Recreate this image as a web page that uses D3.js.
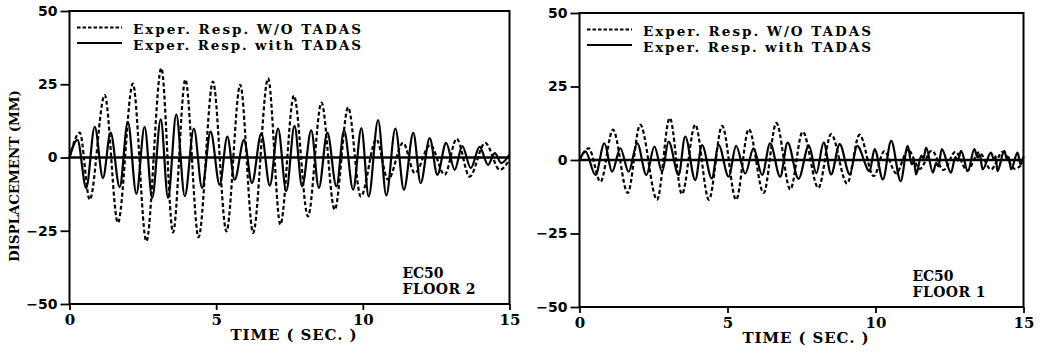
<!DOCTYPE html>
<html>
<head>
<meta charset="utf-8">
<script src="https://cdn.jsdelivr.net/npm/d3@7"></script>
<style>
  body { margin: 0; background: #fff; }
  svg { display: block; }
</style>
</head>
<body>
<div id="chart"></div>
<script>
// turning points (time in sec, displacement in mm)
// floor 2, without TADAS (dashed)
var t2_wo = [0, 0.35, 0.69, 1.2, 1.65, 2.16, 2.62, 3.13, 3.53, 3.95, 4.4, 4.89, 5.35, 5.82, 6.26, 6.77, 7.19, 7.65, 8.13, 8.59, 9.04, 9.5, 9.93, 10.46, 10.86, 11.37, 11.77, 12.3, 12.79, 13.2, 13.64, 14.17, 14.67, 15];
var d2_wo = [0, 8.5, -14.4, 21.3, -22.3, 25.2, -28.6, 30.5, -25.6, 26.6, -27.2, 25.9, -25.2, 24.8, -25.7, 27, -22.9, 21.1, -20.1, 18.7, -17.8, 17.1, -13.3, 6.2, -7.6, 5.0, -5.3, 4.3, -5.9, 6.4, -6.5, 5.0, -4.2, -0.8];
// floor 2, with TADAS (solid)
var t2_w = [0, 0.27, 0.57, 0.86, 1.14, 1.40, 1.71, 1.99, 2.28, 2.56, 2.82, 3.11, 3.36, 3.64, 3.93, 4.24, 4.52, 4.81, 5.12, 5.38, 5.63, 5.95, 6.22, 6.54, 6.83, 7.11, 7.39, 7.67, 7.93, 8.24, 8.5, 8.79, 9.1, 9.36, 9.67, 9.95, 10.2, 10.52, 10.8, 11.11, 11.4, 11.72, 11.97, 12.28, 12.54, 12.84, 13.13, 13.39, 13.68, 13.98, 14.27, 14.5, 14.72, 15];
var d2_w = [0, 6.0, -10.4, 10.5, -7.0, 8.5, -10.1, 12.2, -12.4, 10.5, -13.8, 13.0, -13.8, 14.7, -13.2, 9.9, -10.4, 8.8, -9.3, 7.1, -7.6, 6.0, -8.7, 8.2, -9.6, 9.9, -11.5, 10.8, -9.9, 9.3, -10.4, 8.5, -9.9, 9.3, -11.0, 10.0, -13.3, 12.8, -12.9, 9.9, -11.0, 8.4, -8.7, 6.6, -5.9, 5.0, -4.2, 3.9, -3.6, 3.6, -2.5, 1.5, -1.9, 1.0];
// floor 1, without TADAS (dashed)
var t1_wo = [0, 0.31, 0.71, 1.13, 1.63, 2.05, 2.62, 3.05, 3.46, 3.91, 4.37, 4.82, 5.29, 5.72, 6.22, 6.65, 7.12, 7.54, 8.07, 8.5, 9.04, 9.46, 9.94, 10.3, 10.7, 11.1, 11.5, 11.9, 12.3, 12.7, 13.1, 13.5, 13.9, 14.3, 14.7, 15];
var d1_wo = [0, 4.0, -7.4, 10.3, -11.2, 12.0, -13.5, 14.3, -11.6, 12.0, -13.5, 11.6, -13.5, 10.5, -11.2, 12.6, -10.0, 9.6, -9.5, 8.8, -8.0, 8.6, -5.5, 3.0, -4.5, 3.5, -3.0, 3.2, -3.4, 2.8, -3.6, 2.6, -3.2, 2.8, -3.0, -1.0];
// floor 1, with TADAS (solid), small ripples after 10 sec
var t1_w = [0, 0.2, 0.54, 0.84, 1.1, 1.38, 1.66, 1.95, 2.26, 2.53, 2.79, 3.01, 3.35, 3.57, 3.91, 4.14, 4.47, 4.7, 5.04, 5.29, 5.6, 5.88, 6.17, 6.44, 6.78, 7.03, 7.4, 7.75, 8.0, 8.25, 8.5, 8.79, 9.13, 9.38, 9.8, 9.97, 10.25, 10.53, 10.85, 11.09, 11.22, 11.3, 11.37, 11.55, 11.62, 11.71, 11.94, 12.05, 12.12, 12.24, 12.55, 12.7, 12.78, 12.89, 13.12, 13.34, 13.45, 13.52, 13.62, 13.9, 14.0, 14.06, 14.12, 14.35, 14.45, 14.5, 14.58, 14.8, 14.9, 15];
var d1_w = [0, 2.9, -5.1, 5.7, -4.0, 4.0, -4.0, 5.7, -5.1, 4.6, -4.0, 6.3, -5.1, 8.0, -6.8, 5.1, -6.3, 5.1, -5.7, 4.8, -4.6, 4.0, -5.1, 5.7, -5.7, 5.9, -6.4, 5.0, -4.5, 5.9, -4.9, 5.4, -4.9, 4.8, -3.8, 3.7, -6.6, 6.5, -7.2, 4.8, -1.5, -0.4, -4.9, 1.5, 0.6, 4.2, -4.3, -1.0, -2.2, 3.7, -4.3, 1.0, -0.2, 3.1, -3.8, 3.7, 0.8, 1.8, -3.2, 2.5, 0.2, 1.2, -3.8, 3.1, 0.0, 1.0, -3.2, 2.5, -1.5, 1.2];

var yTicks = [-50, -25, 0, 25, 50];
var xTicks = [0, 5, 10, 15];
var legendNames = ["Exper. Resp. W/O TADAS", "Exper. Resp. with TADAS"];
var tags = [["EC50", "FLOOR 2"], ["EC50", "FLOOR 1"]];
var yTitle = "DISPLACEMENT (MM)";
var xTitle = "TIME ( SEC. )";

var width = 1042;
var height = 356;
var serif = "'DejaVu Serif', serif";

var panels = [
  {left: 69.5, right: 509.5, top: 11, bottom: 304, wo: d3.zip(t2_wo, d2_wo), w: d3.zip(t2_w, d2_w), tag: tags[0], ylabel: true},
  {left: 579.5, right: 1023.5, top: 13, bottom: 307, wo: d3.zip(t1_wo, d1_wo), w: d3.zip(t1_w, d1_w), tag: tags[1], ylabel: false}
];

var svg = d3.select("#chart").append("svg")
  .attr("width", width)
  .attr("height", height);

panels.forEach(function(p) {
  var xScale = d3.scaleLinear().domain([0, 15]).range([p.left, p.right]);
  var yScale = d3.scaleLinear().domain([-50, 50]).range([p.bottom, p.top]);

  var g = svg.append("g");

  /* axes */
  var yAxis = d3.axisLeft(yScale).tickValues(yTicks).tickSize(9).tickPadding(3)
    .tickFormat(function(d) { return d < 0 ? "\u2212" + (-d) : d; });
  var xAxis = d3.axisBottom(xScale).tickValues(xTicks).tickSize(6).tickPadding(4);

  var ya = g.append("g").attr("transform", "translate(" + p.left + ",0)").call(yAxis);
  ya.select(".domain").remove();
  ya.selectAll("line").attr("stroke", "#000").attr("stroke-width", 1.8);
  ya.selectAll("text")
    .attr("fill", "#000")
    .style("font-family", "'DejaVu Sans', sans-serif")
    .style("font-weight", "bold")
    .style("font-size", "14px");

  var xa = g.append("g").attr("transform", "translate(0," + p.bottom + ")").call(xAxis);
  xa.select(".domain").remove();
  xa.selectAll("line").attr("stroke", "#000").attr("stroke-width", 1.8);
  xa.selectAll("text")
    .attr("fill", "#000")
    .style("font-family", serif)
    .style("font-weight", "bold")
    .style("font-size", "15px");

  /* frame */
  g.append("rect")
    .attr("x", p.left)
    .attr("y", p.top)
    .attr("width", p.right - p.left)
    .attr("height", p.bottom - p.top)
    .attr("fill", "none")
    .attr("stroke", "#000")
    .attr("stroke-width", 2);

  /* zero line */
  g.append("line")
    .attr("x1", xScale(0)).attr("x2", xScale(15))
    .attr("y1", yScale(0)).attr("y2", yScale(0))
    .attr("stroke", "#000")
    .attr("stroke-width", 2.4);

  var line = d3.line()
    .x(d => xScale(d[0]))
    .y(d => yScale(d[1]))
    .curve(d3.curveMonotoneX);

  g.append("path")
    .attr("d", line(p.wo))
    .attr("fill", "none")
    .attr("stroke", "#000")
    .attr("stroke-width", 2.2)
    .attr("stroke-dasharray", "4,2.5");

  g.append("path")
    .attr("d", line(p.w))
    .attr("fill", "none")
    .attr("stroke", "#000")
    .attr("stroke-width", 2.2);

  /* legend */
  legendNames.forEach(function(name, i) {
    var ly = p.top + 16.5 + i * 15.5;
    g.append("line")
      .attr("x1", p.left + 7.5).attr("x2", p.left + 52.5)
      .attr("y1", ly).attr("y2", ly)
      .attr("stroke", "#000")
      .attr("stroke-width", 1.8)
      .attr("stroke-dasharray", i === 0 ? "3.5,2" : null);
    g.append("text")
      .attr("x", p.left + 63.5)
      .attr("y", ly + 6.5)
      .attr("textLength", 228)
      .attr("lengthAdjust", "spacing")
      .style("font-family", serif)
      .style("font-weight", "bold")
      .style("font-size", "13.5px")
      .text(name);
  });

  /* EC50 / FLOOR tag */
  p.tag.forEach(function(s, i) {
    g.append("text")
      .attr("x", p.left + 333)
      .attr("y", p.bottom - 26 + i * 16)
      .attr("textLength", i === 0 ? 41 : 73)
      .attr("lengthAdjust", "spacing")
      .style("font-family", serif)
      .style("font-weight", "bold")
      .style("font-size", "14px")
      .text(s);
  });

  /* x title */
  g.append("text")
    .attr("x", (p.left + p.right) / 2 + 4)
    .attr("y", p.bottom + 36)
    .attr("text-anchor", "middle")
    .attr("textLength", 126)
    .attr("lengthAdjust", "spacing")
    .style("font-family", serif)
    .style("font-weight", "bold")
    .style("font-size", "15px")
    .text(xTitle);

  if (p.ylabel) {
    g.append("text")
      .attr("transform", "translate(19,176) rotate(-90)")
      .attr("text-anchor", "middle")
      .attr("textLength", 172)
      .attr("lengthAdjust", "spacing")
      .style("font-family", serif)
      .style("font-weight", "bold")
      .style("font-size", "13.5px")
      .text(yTitle);
  }
});
</script>
</body>
</html>
